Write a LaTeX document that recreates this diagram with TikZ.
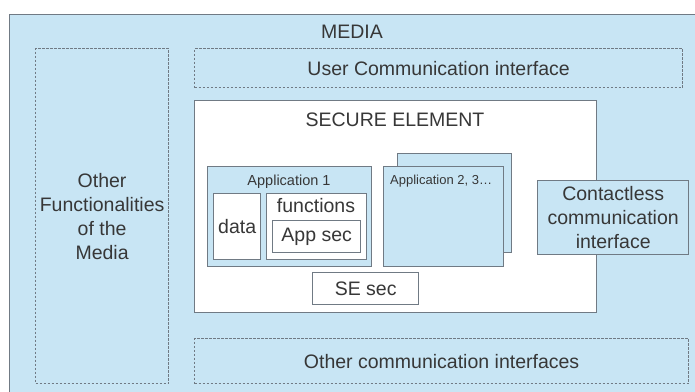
\documentclass[tikz,border=0pt]{standalone}
\usepackage{fontspec}
\setmainfont{Liberation Sans}
\definecolor{bgblue}{RGB}{200,229,244}
\definecolor{edgegray}{RGB}{112,122,132}
\definecolor{txtgray}{RGB}{55,55,55}
\tikzset{
  box/.style={draw=edgegray, line width=1.4pt, fill=bgblue, anchor=north west, inner sep=0pt, text=txtgray, align=center},
  wbox/.style={box, fill=white},
  dbox/.style={draw=edgegray, line width=1.2pt, dash pattern=on 2.5pt off 1.5pt, anchor=north west, inner sep=0pt, text=txtgray, align=center},
  lbl/.style={text=txtgray, inner sep=0pt, font=\fontsize{19.5}{24}\selectfont},
  slbl/.style={text=txtgray, inner sep=0pt, font=\fontsize{14.5}{17}\selectfont}
}
\begin{document}
\begin{tikzpicture}[x=1pt,y=-1pt, font=\fontsize{19.5}{24}\selectfont]
\useasboundingbox (0,0) rectangle (695,391);
\fill[white] (0,0) rectangle (695,391);
\begin{scope}
\clip (0,0) rectangle (695,391);
\node[box, minimum width=700pt, minimum height=400pt] (media) at (9,14) {};
\end{scope}
\node[lbl] (medialbl) at (352,32) {MEDIA};
\node[dbox, minimum width=133pt, minimum height=335pt] (otherfun) at (35,48) {Other\\Functionalities\\of the\\Media};
\node[dbox, minimum width=488pt, minimum height=39pt] (usercomm) at (194,48) {User Communication interface};
\node[dbox, minimum width=494pt, minimum height=45pt] (othercomm) at (194,338) {Other communication interfaces};
\node[wbox, minimum width=402pt, minimum height=212pt] (se) at (194,100) {};
\node[lbl] (selbl) at (395,120) {SECURE ELEMENT};
\node[box, minimum width=164pt, minimum height=100pt] (app1) at (207,166) {};
\node[slbl, font=\fontsize{14.5}{17}\selectfont] (app1lbl) at (289,182) {Application 1};
\node[wbox, minimum width=47pt, minimum height=66pt] (data) at (213,193) {data};
\node[wbox, minimum width=100pt, minimum height=66pt] (func) at (266,193) {};
\node[lbl] (funclbl) at (316,206) {functions};
\node[wbox, minimum width=88pt, minimum height=32pt] (appsec) at (272,220) {App sec};
\node[box, minimum width=114pt, minimum height=99pt] (app2b) at (397,153) {};
\node[box, minimum width=120pt, minimum height=100pt] (app2) at (383,166) {};
\node[slbl, anchor=west, font=\fontsize{13}{15}\selectfont] (app2lbl) at (390,181) {Application 2, 3\dots};
\node[box, minimum width=151pt, minimum height=74pt] (cl) at (537,180) {Contactless\\communication\\interface};
\node[wbox, minimum width=106pt, minimum height=32pt] (sesec) at (312,272) {SE sec};
\end{tikzpicture}
\end{document}
